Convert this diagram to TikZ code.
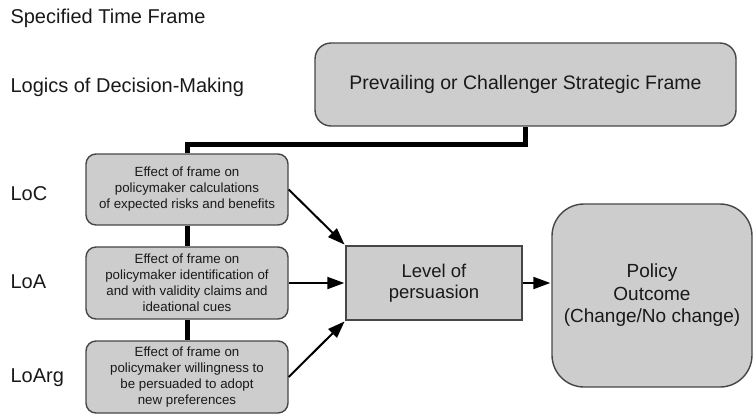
\documentclass[tikz,border=0pt]{standalone}
\usepackage{fontspec}
\setmainfont{Liberation Sans}
\usetikzlibrary{arrows.meta}
\definecolor{boxfill}{RGB}{205,205,205}
\definecolor{boxline}{RGB}{70,70,70}
\definecolor{ink}{RGB}{25,25,25}
\begin{document}
\begin{tikzpicture}[x=1pt,y=-1pt,
  every node/.style={text=ink},
  heading/.style={anchor=base west,font=\fontsize{20}{24}\selectfont},
  bigbox/.style={draw=boxline,fill=boxfill,line width=1.4pt,align=center},
  logicbox/.style={bigbox,rounded corners=10pt,minimum width=202pt,minimum height=71pt,
    inner sep=0pt,font=\fontsize{13.3}{16}\selectfont},
  link/.style={line width=5pt,black},
  arr/.style={line width=2pt,black,-{Triangle[length=17pt,width=12pt]},shorten >=1pt}
]
\useasboundingbox (0,0) rectangle (754,416);

% row headings
\node[heading] (tf) at (7,23) {Specified Time Frame};
\node[heading] (ldm) at (7,92) {Logics of Decision-Making};
\node[heading] (loc) at (7,200) {LoC};
\node[heading] (loa) at (7,288) {LoA};
\node[heading] (loarg) at (7,382) {LoArg};

% frame box
\node[bigbox,rounded corners=16pt,minimum width=421pt,minimum height=83pt,
  font=\fontsize{19.5}{23}\selectfont] (frame) at (525.5,84.5)
  {Prevailing or Challenger Strategic Frame};

% logic boxes
\node[logicbox] (b1) at (187,189.5)
  {Effect of frame on\\policymaker calculations\\of expected risks and benefits};
\node[logicbox,minimum height=72pt] (b2) at (187,283)
  {Effect of frame on\\policymaker identification of\\and with validity claims and\\ideational cues};
\node[logicbox,minimum height=72pt] (b3) at (187,377)
  {Effect of frame on\\policymaker willingness to\\be persuaded to adopt\\new preferences};

% persuasion and outcome
\node[bigbox,minimum width=176pt,minimum height=74pt,
  font=\fontsize{18.5}{21.5}\selectfont] (lvl) at (434,283) {Level of\\persuasion};
\node[bigbox,rounded corners=32pt,minimum width=200pt,minimum height=183pt,
  font=\fontsize{19}{22.5}\selectfont] (pol) at (652,295.5)
  {Policy\\Outcome\\(Change/No change)};

% thick links from the frame down through the logics
\draw[link] (frame.south) -- ++(0,18) -| (b1.north);
\draw[link] (b1.south) -- (b2.north);
\draw[link] (b2.south) -- (b3.north);

% arrows
\draw[arr] (b1.east) -- (lvl.north west);
\draw[arr] (b2.east) -- (lvl.west);
\draw[arr] (b3.east) -- (lvl.south west);
\draw[arr] (lvl.east) -- (lvl.east -| pol.west);
\end{tikzpicture}
\end{document}
